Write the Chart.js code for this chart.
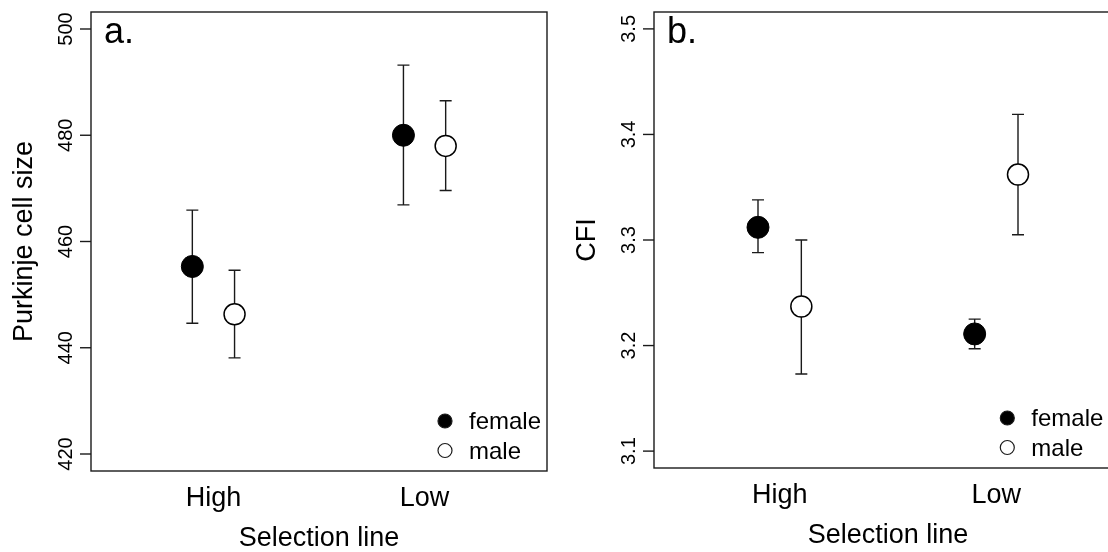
<!DOCTYPE html>
<html>
<head>
<meta charset="utf-8">
<script src="https://cdn.jsdelivr.net/npm/chart.js@4.4.1/dist/chart.umd.min.js"></script>
<style>
	html, body { margin: 0; padding: 0; background: #fff; overflow: hidden; }
	#wrap { position: relative; width: 1108px; height: 552px; overflow: hidden; }
	#chartA { position: absolute; left: 0; top: 0; width: 560px; height: 552px; }
	#chartB { position: absolute; left: 560px; top: 0; width: 580px; height: 552px; }
</style>
</head>
<body>
<div id="wrap">
	<canvas id="chartA" width="560" height="552"></canvas>
	<canvas id="chartB" width="580" height="552"></canvas>
</div>
<script>
const categories = ['High', 'Low'];
const seriesNames = ['female', 'male'];
const dodge = 0.1;

// a. Purkinje cell size (mean, lower and upper error bar)
const purkinjeTicks = [420, 440, 460, 480, 500];
const purkinjeFemale = [455.3, 480.0];
const purkinjeFemaleLo = [444.6, 466.9];
const purkinjeFemaleHi = [465.9, 493.2];
const purkinjeMale = [446.3, 478.0];
const purkinjeMaleLo = [438.1, 469.6];
const purkinjeMaleHi = [454.6, 486.5];

// b. CFI
const cfiTicks = [3.1, 3.2, 3.3, 3.4, 3.5];
const cfiFemale = [3.312, 3.211];
const cfiFemaleLo = [3.288, 3.197];
const cfiFemaleHi = [3.338, 3.225];
const cfiMale = [3.237, 3.362];
const cfiMaleLo = [3.173, 3.305];
const cfiMaleHi = [3.300, 3.419];

const ink = '#1a1a1a';
const fontFamily = '"Liberation Sans", Arial, Helvetica, sans-serif';

Chart.defaults.font.family = fontFamily;

// R-like extension of the axis range by 4%
function extend(ticks) {
	const lo = Math.min(...ticks);
	const hi = Math.max(...ticks);
	const pad = (hi - lo) * 0.04;
	return [lo - pad, hi + pad];
}

const rStyle = {
	id: 'rStyle',
	beforeDatasetsDraw(chart) {
		const ctx = chart.ctx;
		const xs = chart.scales.x;
		const ys = chart.scales.y;
		ctx.save();
		ctx.strokeStyle = ink;
		ctx.lineWidth = 1.4;
		chart.data.datasets.forEach(function(ds) {
			ds.data.forEach(function(pt, i) {
				const px = xs.getPixelForValue(pt.x);
				const top = ys.getPixelForValue(ds.hi[i]);
				const bot = ys.getPixelForValue(ds.lo[i]);
				ctx.beginPath();
				ctx.moveTo(px, top);
				ctx.lineTo(px, bot);
				ctx.moveTo(px - 6, top);
				ctx.lineTo(px + 6, top);
				ctx.moveTo(px - 6, bot);
				ctx.lineTo(px + 6, bot);
				ctx.stroke();
			});
		});
		ctx.restore();
	},
	afterDraw(chart, args, opts) {
		const ctx = chart.ctx;
		const area = chart.chartArea;
		const xs = chart.scales.x;
		const ys = chart.scales.y;
		ctx.save();

		// box
		ctx.strokeStyle = ink;
		ctx.lineWidth = 1.4;
		ctx.strokeRect(area.left, area.top, area.right - area.left, area.bottom - area.top);

		// y ticks and rotated labels
		ctx.fillStyle = '#000';
		ctx.font = '20px ' + fontFamily;
		ctx.textAlign = 'center';
		ctx.textBaseline = 'alphabetic';
		opts.ticks.forEach(function(v) {
			const py = ys.getPixelForValue(v);
			ctx.beginPath();
			ctx.moveTo(area.left - 11, py);
			ctx.lineTo(area.left, py);
			ctx.stroke();
			ctx.save();
			ctx.translate(area.left - 19.5, py);
			ctx.rotate(-Math.PI / 2);
			ctx.fillText(v.toFixed(opts.digits), 0, 0);
			ctx.restore();
		});

		// y title
		ctx.font = '27px ' + fontFamily;
		ctx.save();
		ctx.translate(area.left - 59, (area.top + area.bottom) / 2);
		ctx.rotate(-Math.PI / 2);
		ctx.fillText(opts.yTitle, 0, 0);
		ctx.restore();

		// x category labels and title
		categories.forEach(function(c, i) {
			ctx.fillText(c, xs.getPixelForValue(i + 1), area.bottom + 35);
		});
		ctx.fillText('Selection line', (area.left + area.right) / 2, area.bottom + 75);

		// panel letter
		ctx.textAlign = 'left';
		ctx.font = '36px ' + fontFamily;
		ctx.fillText(opts.letter, area.left + 13, 43);

		// legend
		ctx.font = '24px ' + fontFamily;
		const ly = [area.bottom - 50, area.bottom - 20.5];
		seriesNames.forEach(function(name, i) {
			ctx.beginPath();
			ctx.arc(opts.legendX, ly[i], 7, 0, Math.PI * 2);
			ctx.fillStyle = i === 0 ? '#000' : '#fff';
			ctx.fill();
			ctx.lineWidth = 1.2;
			ctx.stroke();
			ctx.fillStyle = '#000';
			ctx.fillText(name, opts.legendX + 24, ly[i] + 8);
		});

		ctx.restore();
	}
};

function makePanel(id, p) {
	const range = extend(p.ticks);
	const ctx = document.getElementById(id).getContext('2d');

	return new Chart(ctx, {
		type: 'scatter',
		data: {
			datasets: [
				{
					label: seriesNames[0],
					data: p.female.map(function(v, i) { return { x: i + 1 - dodge, y: v }; }),
					lo: p.femaleLo,
					hi: p.femaleHi,
					pointRadius: 11,
					pointBackgroundColor: '#000',
					pointBorderColor: '#000',
					pointBorderWidth: 1,
				},
				{
					label: seriesNames[1],
					data: p.male.map(function(v, i) { return { x: i + 1 + dodge, y: v }; }),
					lo: p.maleLo,
					hi: p.maleHi,
					pointRadius: 10.5,
					pointBackgroundColor: '#fff',
					pointBorderColor: '#000',
					pointBorderWidth: 1.5,
				}
			],
		},
		options: {
			responsive: false,
			animation: false,
			events: [],
			layout: {
				padding: p.padding,
			},
			plugins: {
				legend: { display: false },
				tooltip: { enabled: false },
				rStyle: {
					ticks: p.ticks,
					digits: p.digits,
					yTitle: p.yTitle,
					letter: p.letter,
					legendX: p.legendX,
				},
			},
			scales: {
				x: {
					type: 'linear',
					min: 0.42,
					max: 2.58,
					grid: { display: false },
					border: { display: false },
					ticks: { display: false },
					afterFit: function(s) { s.height = p.xAxisHeight; },
				},
				y: {
					type: 'linear',
					min: range[0],
					max: range[1],
					grid: { display: false },
					border: { display: false },
					ticks: { display: false },
					afterFit: function(s) { s.width = p.yAxisWidth; },
				},
			},
		},
		plugins: [rStyle],
	});
}

makePanel('chartA', {
	ticks: purkinjeTicks,
	digits: 0,
	female: purkinjeFemale, femaleLo: purkinjeFemaleLo, femaleHi: purkinjeFemaleHi,
	male: purkinjeMale, maleLo: purkinjeMaleLo, maleHi: purkinjeMaleHi,
	yTitle: 'Purkinje cell size',
	letter: 'a.',
	legendX: 445,
	padding: { left: 0, top: 9, right: 13, bottom: 0 },
	xAxisHeight: 81,
	yAxisWidth: 91,
});

makePanel('chartB', {
	ticks: cfiTicks,
	digits: 1,
	female: cfiFemale, femaleLo: cfiFemaleLo, femaleHi: cfiFemaleHi,
	male: cfiMale, maleLo: cfiMaleLo, maleHi: cfiMaleHi,
	yTitle: 'CFI',
	letter: 'b.',
	legendX: 447.3,
	padding: { left: 0, top: 4.3, right: 18, bottom: 0 },
	xAxisHeight: 84,
	yAxisWidth: 94,
});
</script>
</body>
</html>
